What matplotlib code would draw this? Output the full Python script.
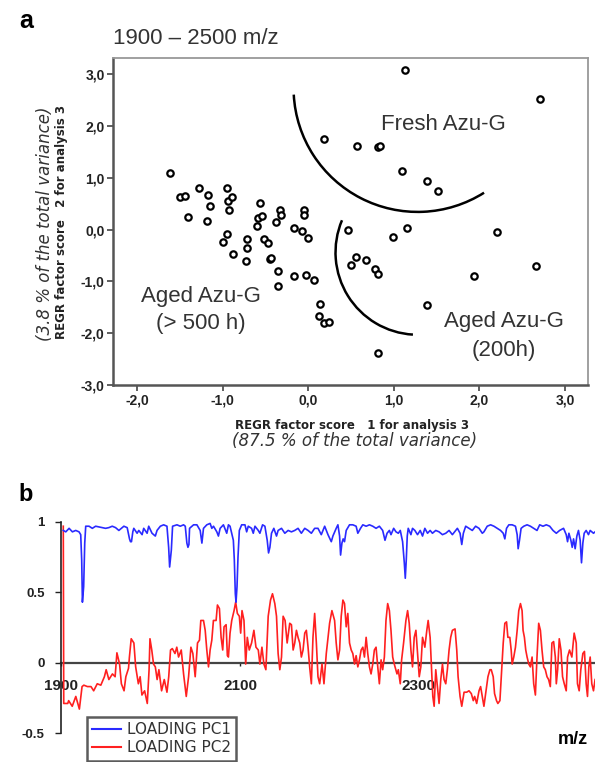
import numpy as np
import matplotlib
matplotlib.use("Agg")
import matplotlib.pyplot as plt
from matplotlib.patches import Arc
from matplotlib.lines import Line2D

plt.rcParams['font.family'] = ['Liberation Sans', 'DejaVu Sans']

# ---- panel a: factor scores ----
score1 = [-1.61, -1.50, -1.44, -1.27, -1.17,
          -1.15, -1.40, -1.18, -0.95, -0.94,
          -0.89, -0.93, -0.95, -0.99, -0.88,
          -0.72, -0.71, -0.73, -0.56, -0.58,
          -0.54, -0.60, -0.52, -0.47, -0.44,
          -0.43, -0.33, -0.32, -0.38, -0.35,
          -0.35, -0.17, -0.05, -0.05, -0.07,
          0.00, -0.17, -0.02, 0.07, 0.14,
          0.13, 0.18, 0.24, 0.19, 0.57,
          0.82, 0.84, 1.10, 1.39, 1.52,
          1.13, 2.71, 0.46, 0.99, 1.15,
          2.21, 0.56, 0.50, 0.68, 0.78,
          0.82, 1.94, 2.66, 1.39, 0.82]
score2 = [1.09, 0.63, 0.64, 0.80, 0.67,
          0.46, 0.24, 0.17, 0.80, 0.56,
          0.63, 0.38, -0.08, -0.25, -0.48,
          -0.19, -0.35, -0.60, 0.51, 0.23,
          0.26, 0.07, -0.19, -0.26, -0.56,
          -0.54, 0.38, 0.29, 0.15, -0.80,
          -1.09, 0.03, 0.37, 0.29, -0.03,
          -0.17, -0.90, -0.88, -0.97, -1.44,
          -1.66, -1.81, -1.78, 1.74, 1.62,
          1.60, 1.62, 1.12, 0.94, 0.74,
          3.08, 2.52, 0.00, -0.15, 0.02,
          -0.05, -0.53, -0.68, -0.58, -0.77,
          -0.85, -0.90, -0.71, -1.46, -2.39]
score_ticks = [-2.0, -1.0, 0.0, 1.0, 2.0, 3.0]
score_yticks = [-3.0, -2.0, -1.0, 0.0, 1.0, 2.0, 3.0]

# group boundaries (center x, center y, half width, half height, start, end angle)
arc_fresh = [1.28, 2.73, 1.45, 2.39, 185, 291]
arc_aged = [1.28, -0.44, 0.96, 1.59, 145, 268]

# ---- panel b: loadings ----
pc1_mz = [1902, 1904.8, 1908.5, 1912.2, 1915.9, 1919.6, 1921.5, 1922.6, 1923.4, 1924.8,
          1926, 1927.1, 1930.8, 1934.5, 1938.2, 1941.9, 1945.6, 1949.3, 1953, 1956.8,
          1960.5, 1964.2, 1969.8, 1973.5, 1976.1, 1977.2, 1978.3, 1979.8, 1980.9, 1984.6,
          1986.5, 1990.2, 1992, 1995.8, 1997.6, 2001.3, 2005, 2006.9, 2010.6, 2014.3,
          2018, 2019.9, 2021, 2022.9, 2024.3, 2029.2, 2032.9, 2036.6, 2038.5, 2040.3,
          2041.5, 2042.6, 2043.3, 2047.8, 2051.5, 2055.2, 2057.1, 2058.9, 2062.6, 2066.3,
          2068.2, 2070.1, 2073.8, 2075.6, 2077.5, 2081.2, 2084.9, 2086.8, 2088.6, 2090.5,
          2092.3, 2093.4, 2094.5, 2095.3, 2096.4, 2097.5, 2099, 2101.6, 2105.3, 2107.2,
          2109, 2112.7, 2114.6, 2116.5, 2120.2, 2122, 2125, 2127.6, 2130.2, 2131.7,
          2133.2, 2135, 2137.6, 2140.6, 2142.4, 2146.2, 2149.9, 2153.6, 2157.3, 2161,
          2164.7, 2168.4, 2172.2, 2175.9, 2179.6, 2183.3, 2187, 2190.7, 2194.5, 2198.2,
          2201.9, 2203.7, 2207.4, 2209.3, 2211.2, 2212.3, 2213.8, 2215.2, 2216.7, 2218.6,
          2222.3, 2226, 2229.7, 2231.6, 2234.6, 2237.2, 2240.9, 2244.6, 2248.3, 2252,
          2255.7, 2259.4, 2262, 2264.3, 2266.9, 2268.7, 2271.7, 2274.3, 2276.9, 2279.1,
          2281.7, 2283.6, 2284.7, 2285.8, 2286.9, 2288, 2291, 2292.8, 2295.4, 2298.4,
          2301.4, 2304, 2306.6, 2309.6, 2312.5, 2315.1, 2318.8, 2322.5, 2326.3, 2330,
          2333.7, 2337.4, 2343, 2346, 2347.9, 2349.7, 2352.3, 2356, 2359.7, 2363.4,
          2367.2, 2370.9, 2372.7, 2376.4, 2380.2, 2383.9, 2387.6, 2391.3, 2394.3, 2396.1,
          2398, 2400.6, 2404.3, 2408, 2409.9, 2411, 2412.5, 2414.3, 2417.3, 2421,
          2424.7, 2428.4, 2432.1, 2435.1, 2438.8, 2442.5, 2446.3, 2450, 2453.7, 2457.4,
          2461.8, 2464.8, 2466.3, 2467.8, 2470, 2471.5, 2473, 2474.8, 2476.7, 2478.5,
          2480.4, 2481.9, 2483.4, 2484.9, 2487.1, 2489.7, 2491.6, 2495.3, 2497.1]
pc1_val = [0.94, 0.93, 0.955, 0.93, 0.94, 0.93, 0.91, 0.73, 0.43, 0.54,
           0.85, 0.97, 0.97, 0.955, 0.97, 0.965, 0.96, 0.955, 0.96, 0.97,
           0.96, 0.94, 0.97, 0.96, 0.88, 0.86, 0.86, 0.93, 0.955, 0.92,
           0.94, 0.91, 0.955, 0.92, 0.97, 0.92, 0.90, 0.94, 0.97, 0.98,
           0.97, 0.82, 0.68, 0.80, 0.97, 0.98, 0.97, 0.98, 0.97, 0.85,
           0.82, 0.84, 0.955, 0.98, 0.98, 0.94, 0.85, 0.955, 0.98, 0.99,
           0.955, 0.97, 0.93, 0.90, 0.955, 0.98, 0.92, 0.98, 0.97, 0.92,
           0.87, 0.73, 0.49, 0.43, 0.54, 0.75, 0.94, 0.98, 0.98, 0.93,
           0.97, 0.955, 0.92, 0.97, 0.94, 0.92, 0.98, 0.97, 0.87, 0.78,
           0.82, 0.92, 0.955, 0.90, 0.94, 0.955, 0.92, 0.94, 0.93, 0.94,
           0.955, 0.92, 0.955, 0.94, 0.92, 0.955, 0.955, 0.91, 0.97, 0.91,
           0.86, 0.90, 0.955, 0.98, 0.90, 0.765, 0.85, 0.88, 0.86, 0.94,
           0.98, 0.98, 0.97, 0.92, 0.955, 0.98, 0.97, 0.98, 0.97, 0.955,
           0.97, 0.94, 0.87, 0.92, 0.94, 0.91, 0.955, 0.93, 0.92, 0.94,
           0.86, 0.71, 0.60, 0.73, 0.90, 0.955, 0.91, 0.955, 0.94, 0.91,
           0.94, 0.90, 0.955, 0.92, 0.94, 0.92, 0.94, 0.93, 0.91, 0.92,
           0.94, 0.91, 0.955, 0.92, 0.84, 0.92, 0.97, 0.955, 0.94, 0.97,
           0.955, 0.92, 0.93, 0.97, 0.98, 0.97, 0.955, 0.94, 0.92, 0.88,
           0.955, 0.98, 0.98, 0.97, 0.91, 0.81, 0.87, 0.955, 0.97, 0.98,
           0.97, 0.955, 0.94, 0.98, 0.97, 0.98, 0.97, 0.94, 0.92, 0.94,
           0.955, 0.91, 0.86, 0.92, 0.87, 0.82, 0.88, 0.81, 0.90, 0.94,
           0.87, 0.71, 0.85, 0.92, 0.94, 0.91, 0.94, 0.92, 0.93]

pc2_mz = [1902, 1902.5, 1907, 1908, 1912, 1916, 1920, 1923, 1925, 1929,
          1933, 1936, 1940, 1944, 1948, 1950, 1953, 1957, 1960, 1962,
          1965, 1967, 1970, 1972, 1975, 1976, 1978, 1981, 1983, 1986,
          1988, 1990, 1993, 1996, 1998, 1999, 2001, 2003, 2005, 2007,
          2009, 2012, 2015, 2018, 2020, 2022, 2024, 2027, 2029, 2031,
          2034, 2036.6, 2039.6, 2042.2, 2044.8, 2047, 2049.6, 2052.2, 2054.4, 2055.9,
          2058.9, 2060.8, 2062.6, 2064.5, 2066.3, 2068.2, 2070, 2073, 2074.5, 2076.7,
          2078.6, 2080.4, 2081.9, 2084.2, 2085.6, 2086.8, 2088.6, 2090.5, 2093.1, 2094.9,
          2096.8, 2099, 2100.5, 2102, 2104.2, 2106.1, 2107.9, 2110.1, 2112.7, 2115.3,
          2117.6, 2120.2, 2122, 2124.3, 2126.5, 2128.7, 2131.3, 2133.9, 2136.1, 2138.7,
          2140.6, 2142.4, 2144.3, 2146.2, 2148, 2150.2, 2152.5, 2155.4, 2157.3, 2159.2,
          2161, 2162.9, 2164.7, 2166.6, 2168.4, 2170.3, 2172.2, 2174, 2175.9, 2177.7,
          2179.6, 2181.4, 2183.3, 2185.2, 2187, 2188.9, 2191.5, 2193.7, 2196.3, 2200,
          2202.6, 2205.6, 2207.4, 2209.3, 2211.2, 2213, 2214.9, 2216.7, 2218.6, 2220.4,
          2222.3, 2224.2, 2226, 2227.9, 2229.7, 2231.6, 2233.4, 2235.3, 2237.2, 2239,
          2240.9, 2242.7, 2244.6, 2246.4, 2248.3, 2250.1, 2252, 2253.9, 2255.7, 2257.6,
          2259.4, 2261.3, 2263.1, 2265, 2266.9, 2268.7, 2270.6, 2272.4, 2275.4, 2276.9,
          2279.1, 2280.6, 2282.8, 2285.4, 2287.3, 2289.1, 2291, 2292.8, 2294.7, 2296.6,
          2298.4, 2300.3, 2302.1, 2304, 2306.6, 2308.8, 2310.3, 2312.5, 2314, 2315.5,
          2317, 2318.8, 2320.7, 2322.5, 2324.4, 2326.3, 2328.1, 2330, 2331.8, 2333.7,
          2335.5, 2337.4, 2340.4, 2342.3, 2343.8, 2346, 2347.9, 2350.5, 2353.4, 2356,
          2358.6, 2360.8, 2362.3, 2364.6, 2367.2, 2369, 2370.9, 2372.7, 2374.6, 2377.2,
          2379.4, 2380.9, 2383.1, 2384.6, 2386.8, 2388.3, 2390.6, 2392.1, 2394.3, 2396.1,
          2398, 2399.5, 2401.7, 2403.2, 2404.3, 2406.1, 2408, 2409.9, 2411.7, 2413.6,
          2415.4, 2416.5, 2418, 2419.5, 2421, 2422.9, 2424.7, 2426.6, 2428.4, 2430.3,
          2432.1, 2434, 2435.9, 2437.7, 2439.6, 2441.4, 2443.3, 2445.1, 2447, 2448.8,
          2450.7, 2452.6, 2453.7, 2455.2, 2457, 2458.9, 2460.7, 2462.6, 2464.8, 2466.3,
          2468.5, 2471.1, 2473.7, 2476, 2477.4, 2479.3, 2481.1, 2483.4, 2485.2, 2487.1,
          2488.6, 2490.1, 2491.6, 2493.4, 2495.3, 2497.1]
pc2_val = [0.97, -0.29, -0.29, -0.27, -0.31, -0.24, -0.33, -0.17, -0.16, -0.17,
           -0.17, -0.20, -0.15, -0.16, -0.10, -0.05, -0.12, -0.08, -0.10, 0.07,
           -0.01, -0.15, -0.20, -0.10, -0.04, 0.04, 0.17, 0.14, -0.03, -0.15,
           -0.10, -0.23, -0.20, -0.29, -0.05, 0.17, 0.09, -0.01, -0.03, -0.12,
           -0.05, -0.20, -0.12, -0.21, -0.10, 0.09, 0.10, 0.065, 0.11, 0.04,
           0.09, -0.08, -0.24, -0.10, 0.11, 0.065, -0.10, 0.14, 0.16, 0.30,
           0.30, 0.23, 0.09, -0.03, 0.09, 0.16, 0.30, 0.30, 0.41, 0.385,
           0.18, 0.09, 0.255, 0.27, 0.05, 0.04, 0.21, 0.30, 0.37, 0.43,
           0.35, 0.33, 0.21, 0.37, 0.30, -0.01, 0.18, 0.09, 0.14, 0.23,
           0.11, 0.09, -0.01, 0.11, -0.01, -0.05, 0.33, 0.445, 0.49, 0.42,
           0.33, 0.065, -0.05, 0.04, 0.33, 0.30, 0.14, 0.28, 0.27, 0.09,
           0.14, 0.23, 0.18, 0.14, 0.04, 0.09, 0.21, 0.23, 0.11, -0.03,
           -0.15, 0.18, 0.35, 0.14, -0.10, -0.15, -0.01, -0.15, 0.065, 0.28,
           0.37, 0.30, 0.14, 0.02, 0.09, 0.33, 0.445, 0.42, 0.255, 0.35,
           0.14, 0.09, 0.065, -0.01, 0.05, -0.03, 0.02, 0.09, 0.11, 0.04,
           0.18, 0.065, -0.03, -0.08, -0.01, 0.09, 0.11, -0.03, -0.15, 0.02,
           -0.05, 0.04, 0.30, 0.42, 0.37, 0.23, 0.04, -0.01, -0.08, -0.05,
           -0.15, 0.02, 0.14, 0.30, 0.37, 0.28, 0.09, -0.03, 0.18, 0.23,
           0.065, -0.10, -0.03, 0.18, 0.11, 0.23, 0.30, 0.18, -0.03, -0.24,
           -0.31, -0.05, -0.17, -0.29, -0.12, -0.01, -0.12, -0.15, -0.05, 0.09,
           0.18, 0.23, 0.24, 0.09, -0.10, -0.24, -0.31, -0.21, -0.21, -0.20,
           -0.22, -0.27, -0.24, -0.29, -0.20, -0.17, -0.24, -0.31, -0.22, -0.10,
           -0.05, -0.05, -0.10, -0.22, -0.27, -0.29, -0.27, -0.10, 0.14, 0.28,
           0.29, 0.18, 0.18, 0.09, -0.01, 0.04, 0.11, 0.23, 0.37, 0.42,
           0.37, 0.23, 0.18, 0.09, 0.04, -0.01, -0.03, 0.04, -0.15, -0.23,
           0.04, 0.28, 0.23, 0.09, -0.03, -0.05, -0.10, -0.12, -0.17, 0.14,
           0.15, 0.04, -0.15, -0.05, 0.17, 0.09, -0.10, -0.15, -0.20, 0.04,
           0.09, 0.04, 0.21, 0.14, -0.15, -0.20, -0.05, 0.065, 0.08, -0.15,
           -0.24, -0.03, 0.04, -0.15, -0.20, -0.12]
mz_ticks = [1900, 2100, 2300]
load_ticks = [-0.5, 0, 0.5, 1]
load_ticklabels = ['-0.5', '0', '0.5', '1']

W, H = 595, 762
fig = plt.figure(figsize=(W / 100, H / 100), dpi=100)
grey = '#333333'

# ================= panel a =================
ax = fig.add_axes([113 / W, 1 - 385 / H, (588 - 113) / W, (385 - 58) / H])
ax.plot(score1, score2, 'o', ms=4.6, mfc='white', mec='black', mew=1.6, ls='none')
ax.set_xlim(-2.28, 3.27)
ax.set_ylim(-3.0, 3.31)
ax.set_xticks(score_ticks)
ax.set_yticks(score_yticks)
ax.set_xticklabels([f'{t:.1f}'.replace('.', ',') for t in score_ticks], fontweight='bold', fontsize=10)
ax.set_yticklabels([f'{t:.1f}'.replace('.', ',') for t in score_yticks], fontweight='bold', fontsize=10)
ax.tick_params(direction='out', length=4, width=1.2, color='#444444', labelcolor='#222222', pad=2)
for s in ['left', 'bottom']:
    ax.spines[s].set_color('#555555')
    ax.spines[s].set_linewidth(1.8)
for s in ['top', 'right']:
    ax.spines[s].set_color('#999999')
    ax.spines[s].set_linewidth(1.3)

for a in (arc_fresh, arc_aged):
    ax.add_patch(Arc((a[0], a[1]), 2 * a[2], 2 * a[3], theta1=a[4], theta2=a[5],
                     color='black', lw=1.8))

ax.text(1.58, 2.02, 'Fresh Azu-G', fontsize=16, color=grey, ha='center', va='center')
ax.text(-1.25, -1.29, 'Aged Azu-G', fontsize=16, color=grey, ha='center', va='center')
ax.text(-1.25, -1.81, '(> 500 h)', fontsize=16, color=grey, ha='center', va='center')
ax.text(2.29, -1.77, 'Aged Azu-G', fontsize=16, color=grey, ha='center', va='center')
ax.text(2.29, -2.33, '(200h)', fontsize=16, color=grey, ha='center', va='center')

fig.text(113 / W, 1 - 39 / H, '1900 \u2013 2500 m/z', fontsize=16, color=grey, ha='left', va='center')
fig.text(26 / W, 1 - 21 / H, 'a', fontsize=18, fontweight='bold', ha='center', va='center')

fig.text(352 / W, 1 - 425 / H, 'REGR factor score   1 for analysis 3', fontsize=8.5,
         fontweight='bold', family='DejaVu Sans', ha='center', va='center', color='#222222')
fig.text(355 / W, 1 - 441 / H, '(87.5 % of the total variance)', fontsize=12,
         style='italic', family='DejaVu Sans', ha='center', va='center', color=grey)
fig.text(62 / W, 1 - 222 / H, 'REGR factor score   2 for analysis 3', fontsize=8.5,
         fontweight='bold', family='DejaVu Sans', ha='center', va='center', rotation=90,
         color='#222222')
fig.text(45 / W, 1 - 224 / H, '(3.8 % of the total variance)', fontsize=12,
         style='italic', family='DejaVu Sans', ha='center', va='center', rotation=90,
         color=grey)

# ================= panel b =================
bx = fig.add_axes([61.5 / W, 1 - 733 / H, (W - 61.5) / W, (733 - 522) / H])
bx.plot(pc2_mz, pc2_val, color='#ff2020', lw=1.2, zorder=3)
bx.plot(pc1_mz, pc1_val, color='#2a2aff', lw=1.2, zorder=3)
bx.set_xlim(1902.5, 2497)
bx.set_ylim(-0.5, 1.0)
bx.spines['top'].set_visible(False)
bx.spines['right'].set_visible(False)
bx.spines['bottom'].set_position(('data', 0))
bx.spines['bottom'].set_color('#444444')
bx.spines['bottom'].set_linewidth(1.6)
bx.spines['bottom'].set_zorder(2)
bx.spines['left'].set_color('#222222')
bx.spines['left'].set_linewidth(1.2)
bx.set_xticks(mz_ticks)
bx.set_xticklabels([str(t) for t in mz_ticks], fontweight='bold', fontsize=11)
bx.set_yticks(load_ticks)
bx.set_yticklabels(load_ticklabels, fontweight='bold', fontsize=9.5)
bx.tick_params(axis='x', direction='out', length=2, width=1, pad=10, colors='#222222')
bx.tick_params(axis='y', direction='out', length=4, width=1, pad=8, colors='#222222')
for lab in bx.get_xticklabels():
    lab.set_zorder(1)

fig.text(26 / W, 1 - 495 / H, 'b', fontsize=17, fontweight='bold', ha='center', va='center')
fig.text(573 / W, 1 - 740 / H, 'm/z', fontsize=13, fontweight='bold', ha='center', va='center')

handles = [Line2D([], [], color='#2a2aff', lw=1.5), Line2D([], [], color='#ff2020', lw=1.5)]
leg = fig.legend(handles, ['LOADING PC1', 'LOADING PC2'], loc='upper left',
                 bbox_to_anchor=(87 / W, 1 - 717 / H), borderaxespad=0, frameon=True,
                 fancybox=False, handlelength=1.9, handletextpad=0.35, borderpad=0.35,
                 labelspacing=0.2, prop={'family': 'DejaVu Sans', 'size': 11})
leg.get_frame().set_edgecolor('#333333')
leg.get_frame().set_linewidth(1.8)
for t in leg.get_texts():
    t.set_color(grey)

fig.savefig('out.png', dpi=100)
